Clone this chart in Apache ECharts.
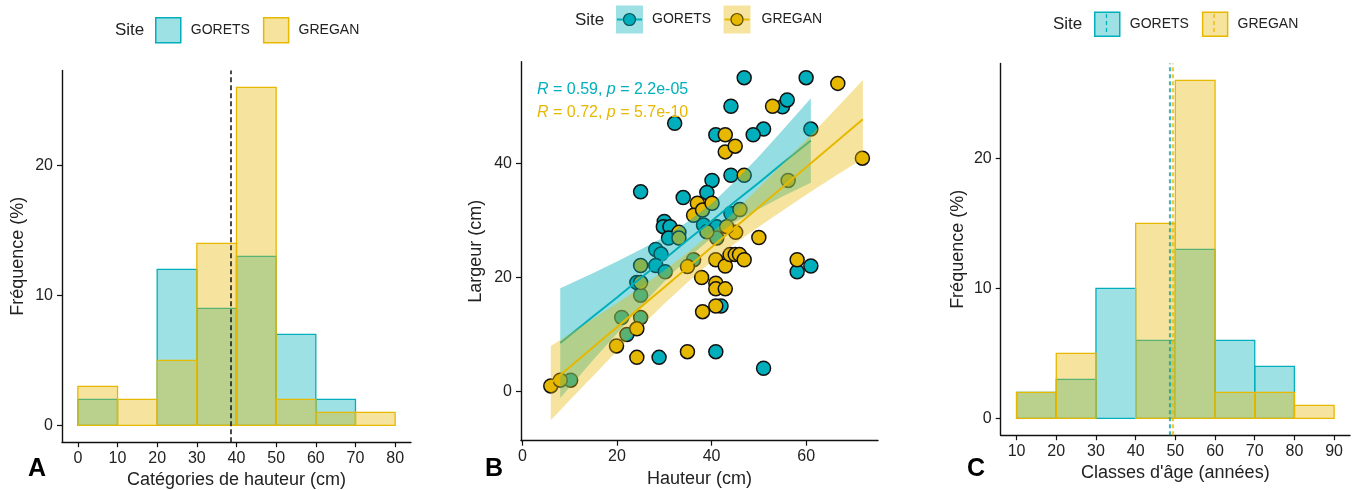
<!DOCTYPE html>
<html><head><meta charset="utf-8">
<script src="https://cdn.jsdelivr.net/npm/echarts@6/dist/echarts.min.js"></script>
<style>html,body{margin:0;padding:0;background:#fff}#c{width:1358px;height:490px}</style>
</head><body><div id="c"></div>
<script>
// ---------- DATA ----------
const siteNames = ['GORETS', 'GREGAN'];

// Panel A : height classes (cm), frequency (%)
const heightBinStarts = [0, 10, 20, 30, 40, 50, 60, 70];
const heightBinWidth = 10;
const heightFreqGorets = [2, 0, 12, 9, 13, 7, 2, 0];
const heightFreqGregan = [3, 2, 5, 14, 26, 2, 1, 1];
const heightMeanLine = 38.5;
const heightTicks = [0, 10, 20, 30, 40, 50, 60, 70, 80];
const freqTicks = [0, 10, 20];

// Panel C : age classes (years), frequency (%)
const ageBinStarts = [10, 20, 30, 40, 50, 60, 70, 80];
const ageBinWidth = 10;
const ageFreqGorets = [2, 3, 10, 6, 13, 6, 4, 0];
const ageFreqGregan = [2, 5, 0, 15, 26, 2, 2, 1];
const ageMeanGorets = 48.5;
const ageMeanGregan = 49.3;
const ageTicks = [10, 20, 30, 40, 50, 60, 70, 80, 90];

// Panel B : Hauteur (x) vs Largeur (y)
const scatterGorets = [
  [46.9,55.0],[60.0,55.0],[44.1,50.0],[55.0,49.9],[56.0,51.1],[32.2,47.0],[51.0,46.0],[48.8,45.0],
  [61.0,46.0],[40.9,45.0],[44.1,37.9],[40.1,37.0],[39.0,34.9],[25.0,35.0],[34.0,34.0],[44.1,31.2],
  [38.3,29.2],[41.1,28.9],[30.0,29.8],[29.8,28.9],[31.2,28.9],[30.9,26.9],[28.2,24.9],[29.3,24.1],
  [28.2,22.1],[24.2,19.1],[28.9,6.0],[40.9,7.0],[51.0,4.1],[42.0,15.0],[58.1,21.0],[61.0,22.0],
  [30.2,21.0],[22.1,10.0],[21.0,13.0],[10.2,2.0],[25.0,13.0],[25.0,16.9],[41.1,26.9],[36.2,23.1]
];
const scatterGregan = [
  [66.7,54.0],[52.9,50.0],[42.9,45.0],[42.9,42.0],[45.0,43.0],[71.9,40.9],[37.0,33.0],[36.2,30.9],
  [45.1,27.9],[24.2,11.0],[19.9,8.0],[24.2,6.0],[34.9,7.0],[6.0,1.0],[8.0,2.0],[34.9,21.9],
  [37.9,20.0],[38.1,14.0],[40.9,23.1],[40.9,19.0],[40.9,18.0],[42.9,18.0],[40.9,15.0],[42.9,22.0],
  [43.9,24.0],[45.0,24.0],[45.9,24.0],[46.9,23.1],[50.0,27.0],[58.1,23.1],[25.0,19.1],[25.0,22.1],
  [33.1,27.9],[33.1,26.9],[39.0,28.0],[43.2,28.9],[38.1,31.8],[40.1,33.0],[46.0,31.9],[46.9,37.9],
  [56.2,37.0]
];
// regression lines and confidence bands
const fitXGorets    = [8, 15, 20, 25, 30, 35, 40, 45, 50, 55, 61];
const fitYGorets    = [8.5, 13.2, 16.5, 19.9, 23.2, 26.6, 29.9, 33.3, 36.6, 40.0, 44.0];
const bandLoGorets  = [-1.1, 5.6, 10.2, 14.9, 19.3, 23.4, 26.9, 29.7, 32.0, 34.2, 36.6];
const bandHiGorets  = [18.1, 20.8, 22.8, 24.9, 27.1, 29.8, 32.9, 36.9, 41.2, 45.8, 51.4];
const fitXGregan    = [6, 10, 15, 20, 25, 30, 35, 40, 45, 50, 55, 60, 66, 72];
const fitYGregan    = [1.5, 4.3, 7.8, 11.3, 14.8, 18.3, 21.8, 25.3, 28.8, 32.3, 35.8, 39.3, 43.5, 47.7];
const bandLoGregan  = [-5.0, -1.5, 2.8, 7.1, 11.3, 15.4, 19.2, 22.8, 26.0, 28.9, 31.7, 34.5, 37.7, 40.8];
const bandHiGregan  = [8.0, 10.1, 12.8, 15.5, 18.3, 21.2, 24.4, 27.8, 31.6, 35.7, 39.9, 44.1, 49.3, 54.6];
const scatterXTicks = [0, 20, 40, 60];
const scatterYTicks = [0, 20, 40];
const corrLabelGorets = '{i|R} = 0.59, {i|p} = 2.2e-05';
const corrLabelGregan = '{i|R} = 0.72, {i|p} = 5.7e-10';

// ---------- STYLE ----------
const FONT = '"Liberation Sans", Arial, sans-serif';
const TEAL = '#00AFBB', GOLD = '#E7B800';
const TEAL_A = 'rgba(0,175,187,0.38)', GOLD_A = 'rgba(231,184,0,0.38)';
const TXT = '#222';

function histSeries(name, starts, width, vals, fill, stroke, idx, z) {
  return {
    type: 'custom', name, xAxisIndex: idx, yAxisIndex: idx, z, silent: true,
    data: starts.map((s, i) => [s, s + width, vals[i]]),
    encode: { x: [0, 1], y: 2 },
    renderItem(params, api) {
      const v = api.value(2);
      if (!v) return null;
      const a = api.coord([api.value(0), 0]);
      const b = api.coord([api.value(1), v]);
      return { type: 'rect', shape: { x: a[0], y: b[1], width: b[0] - a[0], height: a[1] - b[1] },
        style: { fill, stroke, lineWidth: 1.3 } };
    }
  };
}
function ribbonSeries(name, xs, lo, hi, fill, idx, z) {
  return {
    type: 'custom', name, xAxisIndex: idx, yAxisIndex: idx, z, silent: true,
    data: xs.map((x, i) => [x, lo[i], hi[i]]),
    encode: { x: 0, y: [1, 2] },
    renderItem(params, api) {
      if (params.dataIndex !== 0) return null;
      const pts = [];
      for (let i = 0; i < xs.length; i++) pts.push(api.coord([xs[i], hi[i]]));
      for (let i = xs.length - 1; i >= 0; i--) pts.push(api.coord([xs[i], lo[i]]));
      return { type: 'polygon', shape: { points: pts }, style: { fill } };
    }
  };
}
function axisCommon(ticks) {
  return {
    type: 'value', splitLine: { show: false },
    axisLine: { show: true, onZero: false, lineStyle: { color: '#111', width: 1.4 } },
    axisTick: { show: true, length: 5, customValues: ticks, lineStyle: { color: '#111', width: 1.2 } },
    axisLabel: { customValues: ticks, color: TXT, fontSize: 16, fontFamily: FONT },
    nameLocation: 'middle',
    nameTextStyle: { color: TXT, fontSize: 18, fontFamily: FONT }
  };
}
function xAx(idx, min, max, ticks, name) {
  const a = axisCommon(ticks);
  a.gridIndex = idx; a.min = min; a.max = max; a.name = name; a.nameGap = 29;
  a.axisLabel.margin = 8;
  return a;
}
function yAx(idx, min, max, ticks, name, gap) {
  const a = axisCommon(ticks);
  a.gridIndex = idx; a.min = min; a.max = max; a.name = name; a.nameGap = gap;
  a.axisLabel.margin = 9;
  return a;
}
function txt(x, y, text, size, extra) {
  return Object.assign({ type: 'text', z: 100, silent: true,
    style: Object.assign({ x, y, text, fill: TXT, fontSize: size, fontFamily: FONT,
      verticalAlign: 'middle', textVerticalAlign: 'middle', align: 'left', textAlign: 'left' }, extra || {}) });
}

const option = {
  animation: false,
  backgroundColor: '#fff',
  textStyle: { fontFamily: FONT },
  grid: [
    { left: 62, top: 70.4, width: 349, height: 371.8, outerBoundsMode: 'none', containLabel: false },
    { left: 521, top: 61.7, width: 357, height: 379, outerBoundsMode: 'none', containLabel: false },
    { left: 1000.7, top: 63.5, width: 349.3, height: 371.7, outerBoundsMode: 'none', containLabel: false }
  ],
  xAxis: [
    xAx(0, -4, 84, heightTicks, 'Catégories de hauteur (cm)'),
    xAx(1, -0.3, 75.2, scatterXTicks, 'Hauteur (cm)'),
    xAx(2, 6, 94, ageTicks, "Classes d'âge (années)")
  ],
  yAxis: [
    yAx(0, -1.3, 27.3, freqTicks, 'Fréquence (%)', 35),
    yAx(1, -8.6, 57.8, scatterYTicks, 'Largeur (cm)', 36),
    yAx(2, -1.3, 27.3, freqTicks, 'Fréquence (%)', 34)
  ],
  legend: [
    { left: 155, top: 17, padding: 0, itemWidth: 25, itemHeight: 25, itemGap: 13, icon: 'rect',
      selectedMode: false, textStyle: { fontSize: 14, color: TXT, fontFamily: FONT, padding: [0, 0, 0, 5] },
      data: [
        { name: siteNames[0], itemStyle: { color: TEAL_A, borderColor: TEAL, borderWidth: 1.5 } },
        { name: siteNames[1], itemStyle: { color: GOLD_A, borderColor: GOLD, borderWidth: 1.5 } }
      ] },
    { left: 1094, top: 11.5, padding: 0, itemWidth: 25, itemHeight: 24, itemGap: 13, icon: 'rect',
      selectedMode: false, textStyle: { fontSize: 14, color: TXT, fontFamily: FONT, padding: [0, 0, 0, 5] },
      data: [
        { name: siteNames[0], itemStyle: { color: TEAL_A, borderColor: TEAL, borderWidth: 1.5 } },
        { name: siteNames[1], itemStyle: { color: GOLD_A, borderColor: GOLD, borderWidth: 1.5 } }
      ] }
  ],
  series: [
    // Panel A
    histSeries(siteNames[0], heightBinStarts, heightBinWidth, heightFreqGorets, TEAL_A, TEAL, 0, 2),
    histSeries(siteNames[1], heightBinStarts, heightBinWidth, heightFreqGregan, GOLD_A, GOLD, 0, 3),
    { type: 'line', xAxisIndex: 0, yAxisIndex: 0, data: [], z: 10, silent: true,
      markLine: { symbol: 'none', silent: true, label: { show: false },
        lineStyle: { type: [5, 3], color: '#111', width: 1.5 },
        data: [{ xAxis: heightMeanLine }] } },
    // Panel B
    { type: 'scatter', name: siteNames[0], xAxisIndex: 1, yAxisIndex: 1, z: 2, symbolSize: 14,
      itemStyle: { color: TEAL, borderColor: '#111', borderWidth: 1.5, opacity: 1 }, data: scatterGorets },
    { type: 'scatter', name: siteNames[1], xAxisIndex: 1, yAxisIndex: 1, z: 2, symbolSize: 14,
      itemStyle: { color: GOLD, borderColor: '#111', borderWidth: 1.5, opacity: 1 }, data: scatterGregan },
    ribbonSeries(siteNames[0], fitXGorets, bandLoGorets, bandHiGorets, 'rgba(0,175,187,0.42)', 1, 3),
    { type: 'line', name: siteNames[0], xAxisIndex: 1, yAxisIndex: 1, z: 4, showSymbol: false, silent: true,
      lineStyle: { color: TEAL, width: 2 }, data: fitXGorets.map((x, i) => [x, fitYGorets[i]]) },
    ribbonSeries(siteNames[1], fitXGregan, bandLoGregan, bandHiGregan, 'rgba(231,184,0,0.38)', 1, 5),
    { type: 'line', name: siteNames[1], xAxisIndex: 1, yAxisIndex: 1, z: 6, showSymbol: false, silent: true,
      lineStyle: { color: GOLD, width: 2 }, data: fitXGregan.map((x, i) => [x, fitYGregan[i]]) },
    // Panel C
    histSeries(siteNames[0], ageBinStarts, ageBinWidth, ageFreqGorets, TEAL_A, TEAL, 2, 2),
    histSeries(siteNames[1], ageBinStarts, ageBinWidth, ageFreqGregan, GOLD_A, GOLD, 2, 3),
    { type: 'line', xAxisIndex: 2, yAxisIndex: 2, data: [], z: 10, silent: true,
      markLine: { symbol: 'none', silent: true, label: { show: false },
        data: [
          { xAxis: ageMeanGorets, lineStyle: { type: [4, 3], color: 'rgba(0,160,170,0.75)', width: 2.2 } },
          { xAxis: ageMeanGregan, lineStyle: { type: [4, 3], color: 'rgba(231,184,0,0.75)', width: 2.2 } }
        ] } }
  ],
  graphic: [
    // legend titles
    txt(115, 30, 'Site', 17),
    txt(575, 20, 'Site', 17),
    txt(1053, 24, 'Site', 17),
    // panel B legend keys
    { type: 'rect', z: 100, silent: true, shape: { x: 616, y: 5.5, width: 27, height: 28 }, style: { fill: TEAL_A } },
    { type: 'line', z: 101, silent: true, shape: { x1: 617, y1: 19.5, x2: 642, y2: 19.5 }, style: { stroke: TEAL, lineWidth: 2 } },
    { type: 'circle', z: 102, silent: true, shape: { cx: 629.5, cy: 19.5, r: 6 }, style: { fill: TEAL, stroke: '#0d4f57', lineWidth: 1.2 } },
    txt(652, 19.5, siteNames[0], 14),
    { type: 'rect', z: 100, silent: true, shape: { x: 723.5, y: 5.5, width: 27, height: 28 }, style: { fill: GOLD_A } },
    { type: 'line', z: 101, silent: true, shape: { x1: 724.5, y1: 19.5, x2: 749.5, y2: 19.5 }, style: { stroke: GOLD, lineWidth: 2 } },
    { type: 'circle', z: 102, silent: true, shape: { cx: 737, cy: 19.5, r: 6 }, style: { fill: GOLD, stroke: '#5a4a00', lineWidth: 1.2 } },
    txt(761.5, 19.5, siteNames[1], 14),
    // panel C legend dashed marks
    { type: 'line', z: 101, silent: true, shape: { x1: 1106.5, y1: 14, x2: 1106.5, y2: 34 }, style: { stroke: TEAL, lineWidth: 1.3, lineDash: [4, 3] } },
    { type: 'line', z: 101, silent: true, shape: { x1: 1214, y1: 14, x2: 1214, y2: 34 }, style: { stroke: GOLD, lineWidth: 1.3, lineDash: [4, 3] } },
    // correlation labels
    txt(537, 90, corrLabelGorets, 16, { fill: TEAL, rich: { i: { fontStyle: 'italic', fill: TEAL, fontSize: 16, fontFamily: FONT } } }),
    txt(537, 113, corrLabelGregan, 16, { fill: GOLD, rich: { i: { fontStyle: 'italic', fill: GOLD, fontSize: 16, fontFamily: FONT } } }),
    // panel letters
    txt(28, 469, 'A', 25, { fill: '#000', fontWeight: 'bold' }),
    txt(485, 469, 'B', 25, { fill: '#000', fontWeight: 'bold' }),
    txt(967, 469, 'C', 25, { fill: '#000', fontWeight: 'bold' })
  ]
};
const chart = echarts.init(document.getElementById('c'), null, { renderer: 'canvas' });
chart.setOption(option);
</script>
</body></html>
